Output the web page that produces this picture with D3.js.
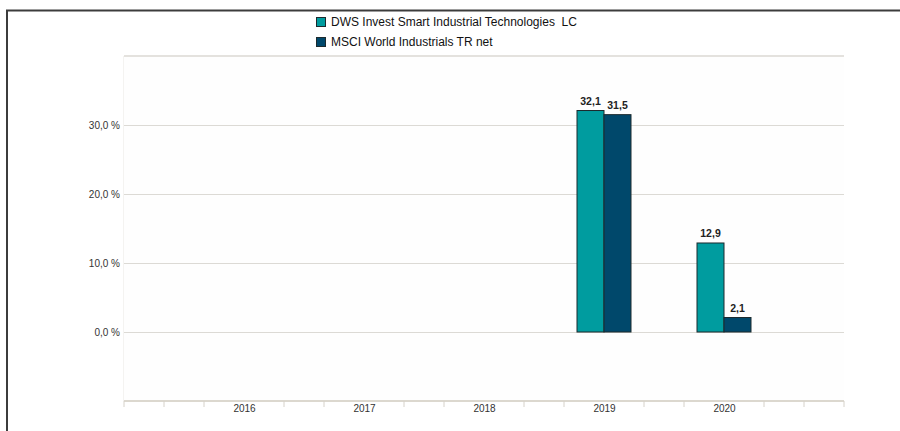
<!DOCTYPE html>
<html>
<head>
<meta charset="utf-8">
<script src="https://cdn.jsdelivr.net/npm/d3@7"></script>
<style>
  html, body { margin: 0; padding: 0; background: #fff; }
  svg { display: block; }
  text { font-family: "Liberation Sans", Arial, sans-serif; }
</style>
</head>
<body>
<svg id="chart" width="900" height="431"></svg>
<script>
const years = [2016, 2017, 2018, 2019, 2020];
const seriesNames = ["DWS Invest Smart Industrial Technologies  LC", "MSCI World Industrials TR net"];
const fundValues = [null, null, null, 32.1, 12.9];
const indexValues = [null, null, null, 31.5, 2.1];
const yTicks = [0, 10, 20, 30];
const colors = ["#009c9f", "#00486b"];

(function () {
const svg = d3.select("#chart");
const W = 900, H = 431;
const pLeft = 124, pRight = 844, pTop = 56, pBottom = 401;

const x = d3.scaleLinear().domain([2015, 2021]).range([pLeft, pRight]);
const y = d3.scaleLinear().domain([-10, 40]).range([pBottom, pTop]);
const barW = 27;

// frame (top and left)
svg.append("line").attr("x1", 6).attr("x2", W).attr("y1", 10.5).attr("y2", 10.5)
  .attr("stroke", "#3c3c3c").attr("stroke-width", 2);
svg.append("line").attr("x1", 7).attr("x2", 7).attr("y1", 10).attr("y2", H)
  .attr("stroke", "#3c3c3c").attr("stroke-width", 2);

// plot background
svg.append("rect").attr("x", pLeft).attr("y", pTop).attr("width", pRight - pLeft).attr("height", pBottom - pTop)
  .attr("fill", "#fefefe");
svg.append("line").attr("x1", pLeft - 0.5).attr("x2", pLeft - 0.5).attr("y1", pTop).attr("y2", pBottom)
  .attr("stroke", "#f4f3f1").attr("stroke-width", 1);

// top border of plot
svg.append("line").attr("x1", pLeft).attr("x2", pRight).attr("y1", y(40)).attr("y2", y(40))
  .attr("stroke", "#e4e2de").attr("stroke-width", 2);

// gridlines + y labels
const yAxis = d3.axisLeft(y).tickValues(yTicks).tickSize(-(pRight - pLeft))
  .tickFormat(d => d3.format(".1f")(d).replace(".", ",") + " %");
const gy = svg.append("g").attr("transform", `translate(${pLeft},0)`).call(yAxis);
gy.select(".domain").remove();
gy.selectAll(".tick line").attr("stroke", "#dcdad5").attr("stroke-width", 1);
gy.selectAll(".tick text").attr("x", -4).attr("fill", "#333").style("font-size", "10px")
  .style("font-family", "'Liberation Sans', Arial, sans-serif");

// x axis
const minorTicks = d3.range(0, 19).map(i => 2015 + i / 3).filter((v, i) => i % 3 !== 0 || i === 0 || i === 18);
const gx = svg.append("g").attr("transform", `translate(0,${pBottom})`);
gx.append("line").attr("x1", pLeft).attr("x2", pRight).attr("y1", 0).attr("y2", 0)
  .attr("stroke", "#dcd8cf").attr("stroke-width", 2);
gx.selectAll("line.tk").data(minorTicks).join("line").attr("class", "tk")
  .attr("x1", d => x(d)).attr("x2", d => x(d)).attr("y1", 0).attr("y2", 6)
  .attr("stroke", "#d6d2ca").attr("stroke-width", 1);
const xAxis = d3.axisBottom(x).tickValues(years).tickFormat(d3.format("d")).tickSize(0);
const gxl = svg.append("g").attr("transform", `translate(0,${pBottom})`).call(xAxis);
gxl.select(".domain").remove();
gxl.selectAll(".tick text").attr("y", 4).attr("fill", "#333").style("font-size", "10px")
  .style("font-family", "'Liberation Sans', Arial, sans-serif");

// bars
const seriesData = [fundValues, indexValues];
seriesData.forEach((vals, si) => {
  const data = years.map((yr, i) => ({ yr, v: vals[i] })).filter(d => d.v !== null);
  const g = svg.append("g");
  g.selectAll("rect").data(data).join("rect")
    .attr("x", d => x(d.yr) - barW + si * barW)
    .attr("y", d => y(Math.max(0, d.v)))
    .attr("width", barW)
    .attr("height", d => Math.abs(y(d.v) - y(0)))
    .attr("fill", colors[si])
    .attr("stroke", "#1c2a2e").attr("stroke-width", 1);
  g.selectAll("text").data(data).join("text")
    .attr("x", d => x(d.yr) - barW / 2 + si * barW)
    .attr("y", d => y(d.v) - 6)
    .attr("text-anchor", "middle")
    .attr("fill", "#222")
    .style("font-size", "10.5px").style("font-weight", "bold")
    .text(d => d3.format(".1f")(d.v).replace(".", ","));
});

// legend
const lg = svg.append("g").attr("transform", "translate(316,17)");
seriesNames.forEach((name, i) => {
  lg.append("rect").attr("x", 0.5).attr("y", i * 20 + 0.5).attr("width", 9).attr("height", 9)
    .attr("fill", colors[i]).attr("stroke", "#1c2a2e").attr("stroke-width", 1);
  lg.append("text").attr("x", 15).attr("y", i * 20 + 9).attr("fill", "#111")
    .style("font-size", "12px").style("white-space", "pre").text(name);
});
})();
</script>
</body>
</html>
